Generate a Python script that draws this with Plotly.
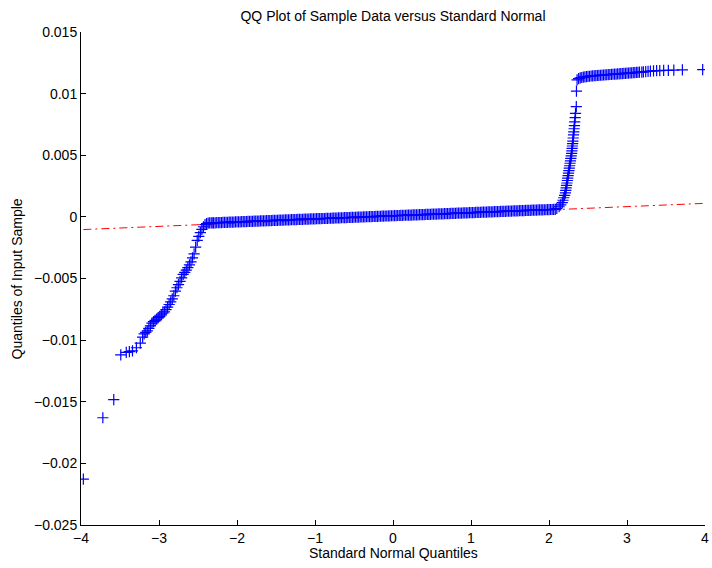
import plotly.graph_objects as go

# ---------------- data ----------------
# lower tail of the sample (theoretical quantile, sample quantile)
x_low_tail = [-3.97, -3.72, -3.58, -3.49, -3.42, -3.38, -3.34, -3.29, -3.24, -3.21,
              -3.19, -3.17, -3.15, -3.13, -3.11, -3.09, -3.07, -3.05, -3.03, -3.01,
              -2.99, -2.97, -2.95, -2.93, -2.91, -2.89, -2.87, -2.85, -2.83, -2.81,
              -2.79, -2.77, -2.75, -2.73, -2.71, -2.69, -2.67, -2.65, -2.63, -2.61,
              -2.59, -2.57, -2.55, -2.53, -2.51, -2.49, -2.47, -2.45, -2.43, -2.41,
              -2.39, -2.37, -2.35, -2.33, -2.31]
y_low_tail = [-0.02128, -0.01630, -0.01482, -0.01120, -0.01100, -0.01093, -0.01087, -0.01062, -0.01025, -0.00975,
              -0.00950, -0.00937, -0.00925, -0.00905, -0.00885, -0.00862, -0.00850, -0.00840, -0.00830, -0.00818,
              -0.00807, -0.00795, -0.00782, -0.00770, -0.00752, -0.00733, -0.00711, -0.00690, -0.00665, -0.00640,
              -0.00603, -0.00575, -0.00550, -0.00523, -0.00495, -0.00467, -0.00450, -0.00432, -0.00412, -0.00390,
              -0.00365, -0.00332, -0.00300, -0.00245, -0.00190, -0.00158, -0.00128, -0.00101, -0.00080, -0.00063,
              -0.00055, -0.00050, -0.00049, -0.00048, -0.00048]

# central band
x_middle = [-2.30, -2.28, -2.26, -2.24, -2.22, -2.20, -2.18, -2.16, -2.14, -2.12, -2.10, -2.08, -2.06, -2.04, -2.02, -2.00, -1.98, -1.96, -1.94, -1.92,
            -1.90, -1.88, -1.86, -1.84, -1.82, -1.80, -1.78, -1.76, -1.74, -1.72, -1.70, -1.68, -1.66, -1.64, -1.62, -1.60, -1.58, -1.56, -1.54, -1.52,
            -1.50, -1.48, -1.46, -1.44, -1.42, -1.40, -1.38, -1.36, -1.34, -1.32, -1.30, -1.28, -1.26, -1.24, -1.22, -1.20, -1.18, -1.16, -1.14, -1.12,
            -1.10, -1.08, -1.06, -1.04, -1.02, -1.00, -0.98, -0.96, -0.94, -0.92, -0.90, -0.88, -0.86, -0.84, -0.82, -0.80, -0.78, -0.76, -0.74, -0.72,
            -0.70, -0.68, -0.66, -0.64, -0.62, -0.60, -0.58, -0.56, -0.54, -0.52, -0.50, -0.48, -0.46, -0.44, -0.42, -0.40, -0.38, -0.36, -0.34, -0.32,
            -0.30, -0.28, -0.26, -0.24, -0.22, -0.20, -0.18, -0.16, -0.14, -0.12, -0.10, -0.08, -0.06, -0.04, -0.02, 0.00, 0.02, 0.04, 0.06, 0.08,
            0.10, 0.12, 0.14, 0.16, 0.18, 0.20, 0.22, 0.24, 0.26, 0.28, 0.30, 0.32, 0.34, 0.36, 0.38, 0.40, 0.42, 0.44, 0.46, 0.48,
            0.50, 0.52, 0.54, 0.56, 0.58, 0.60, 0.62, 0.64, 0.66, 0.68, 0.70, 0.72, 0.74, 0.76, 0.78, 0.80, 0.82, 0.84, 0.86, 0.88,
            0.90, 0.92, 0.94, 0.96, 0.98, 1.00, 1.02, 1.04, 1.06, 1.08, 1.10, 1.12, 1.14, 1.16, 1.18, 1.20, 1.22, 1.24, 1.26, 1.28,
            1.30, 1.32, 1.34, 1.36, 1.38, 1.40, 1.42, 1.44, 1.46, 1.48, 1.50, 1.52, 1.54, 1.56, 1.58, 1.60, 1.62, 1.64, 1.66, 1.68,
            1.70, 1.72, 1.74, 1.76, 1.78, 1.80, 1.82, 1.84, 1.86, 1.88, 1.90, 1.92, 1.94, 1.96, 1.98, 2.00, 2.02, 2.04, 2.06, 2.08]
y_middle_1e5 = [-48, -48, -47, -47, -46, -46, -45, -45, -44, -44, -43, -43, -42, -42, -41, -41, -40, -40, -39, -39,
                -38, -38, -37, -37, -36, -36, -35, -35, -34, -34, -33, -33, -32, -32, -31, -31, -30, -30, -29, -29,
                -28, -28, -27, -27, -26, -26, -25, -25, -24, -24, -23, -23, -22, -22, -21, -21, -20, -20, -19, -19,
                -18, -18, -17, -17, -16, -16, -15, -15, -14, -14, -13, -13, -12, -12, -11, -11, -10, -10, -9, -9,
                -8, -8, -7, -7, -6, -6, -5, -5, -4, -4, -3, -3, -2, -2, -1, -1, 0, 0, 1, 1,
                2, 2, 3, 3, 4, 4, 5, 5, 6, 6, 7, 7, 8, 8, 9, 9, 10, 10, 11, 11,
                12, 12, 13, 13, 14, 14, 15, 15, 16, 16, 17, 17, 18, 18, 19, 19, 20, 20, 21, 21,
                22, 22, 23, 23, 24, 24, 25, 25, 26, 26, 27, 27, 28, 28, 29, 29, 30, 30, 31, 31,
                32, 32, 33, 33, 34, 34, 35, 35, 36, 36, 37, 37, 38, 38, 39, 39, 40, 40, 41, 41,
                42, 42, 43, 43, 44, 44, 45, 45, 46, 46, 47, 47, 48, 48, 49, 49, 50, 50, 51, 51,
                52, 52, 53, 53, 54, 54, 55, 55, 56, 56, 57, 57, 58, 58, 59, 59, 60, 60, 61, 61]
y_middle = [v * 1e-5 for v in y_middle_1e5]

# steep rise near +2.2
x_rise = [2.10, 2.13, 2.15, 2.17, 2.18, 2.19, 2.20, 2.21, 2.215, 2.22,
          2.225, 2.23, 2.235, 2.24, 2.245, 2.25, 2.255, 2.26, 2.265, 2.27,
          2.275, 2.28, 2.285, 2.29, 2.293, 2.296, 2.30, 2.303, 2.306, 2.31,
          2.314, 2.318, 2.322, 2.326, 2.33, 2.335, 2.34, 2.35, 2.352]
y_rise = [0.00068, 0.00082, 0.00097, 0.00115, 0.00135, 0.00155, 0.00175, 0.00195, 0.00215, 0.00235,
          0.00255, 0.00275, 0.00295, 0.00315, 0.00335, 0.00355, 0.00375, 0.00395, 0.00415, 0.00435,
          0.00455, 0.00475, 0.00495, 0.00515, 0.00535, 0.00555, 0.00575, 0.00595, 0.00615, 0.00640,
          0.00665, 0.00690, 0.00715, 0.00740, 0.00770, 0.00805, 0.00840, 0.00895, 0.01020]

# upper tail plateau
x_up_tail = [2.36, 2.38, 2.40, 2.42, 2.44, 2.46, 2.48, 2.50, 2.52, 2.54,
             2.56, 2.58, 2.60, 2.62, 2.64, 2.66, 2.68, 2.70, 2.72, 2.74,
             2.76, 2.78, 2.80, 2.82, 2.84, 2.86, 2.88, 2.90, 2.92, 2.94,
             2.96, 2.98, 3.00, 3.02, 3.04, 3.06, 3.08, 3.10, 3.12, 3.14,
             3.16, 3.19, 3.21, 3.24, 3.27, 3.30, 3.34, 3.38, 3.42, 3.47,
             3.53, 3.60, 3.71, 3.97]
y_up_tail = [0.01112, 0.01121, 0.01127, 0.01131, 0.01134, 0.01136, 0.01138, 0.01140, 0.01141, 0.01143,
             0.01144, 0.01145, 0.01146, 0.01147, 0.01148, 0.01149, 0.01150, 0.01151, 0.01152, 0.01153,
             0.01154, 0.01155, 0.01156, 0.01157, 0.01158, 0.01159, 0.01160, 0.01161, 0.01162, 0.01163,
             0.01164, 0.01165, 0.01166, 0.01167, 0.01168, 0.01169, 0.01170, 0.01171, 0.01172, 0.01173,
             0.01174, 0.01175, 0.01176, 0.01178, 0.01180, 0.01182, 0.01184, 0.01186, 0.01187, 0.01188,
             0.01189, 0.01190, 0.01192, 0.01195]

# reference line through the quartiles
x_ref = [-3.97, 3.97]
y_ref = [-0.00103, 0.00109]

x_tickvals = [-4, -3, -2, -1, 0, 1, 2, 3, 4]
x_ticktext = ["\u22124", "\u22123", "\u22122", "\u22121", "0", "1", "2", "3", "4"]
y_tickvals = [-0.025, -0.02, -0.015, -0.01, -0.005, 0, 0.005, 0.01, 0.015]
y_ticktext = ["\u22120.025", "\u22120.02", "\u22120.015", "\u22120.01", "\u22120.005", "0", "0.005", "0.01", "0.015"]

title_text = "QQ Plot of Sample Data versus Standard Normal"
x_title = "Standard Normal Quantiles"
y_title = "Quantiles of Input Sample"

# ---------------- figure ----------------
FONT = "Liberation Sans, Arial, Helvetica, sans-serif"
x_all = x_low_tail + x_middle + x_rise + x_up_tail
y_all = y_low_tail + y_middle + y_rise + y_up_tail

fig = go.Figure()
fig.add_trace(go.Scatter(
    x=x_ref, y=y_ref, mode="lines",
    line=dict(color="#FF0000", width=1, dash="8px,4px,2px,4px"),
    showlegend=False, hoverinfo="skip"))
fig.add_trace(go.Scatter(
    x=x_all, y=y_all, mode="markers",
    marker=dict(symbol="cross-thin", size=8, color="#0000FF",
                line=dict(color="#0000FF", width=1.2)),
    showlegend=False))

axis_common = dict(showline=True, linecolor="#000000", linewidth=1, mirror=False,
                   ticks="inside", ticklen=5, tickwidth=1, tickcolor="#000000",
                   showgrid=False, zeroline=False,
                   tickfont=dict(family=FONT, size=14, color="#000000"))

fig.update_layout(
    width=712, height=568,
    margin=dict(l=81, r=7, t=32, b=43, autoexpand=False),
    paper_bgcolor="white", plot_bgcolor="white",
    font=dict(family=FONT, size=14, color="#000000"),
    title=dict(text=title_text, x=0.5, xref="paper", xanchor="center",
               y=1 - 16 / 568, yref="container", yanchor="middle",
               font=dict(family=FONT, size=14, color="#000000")),
    xaxis=dict(range=[-4, 4], tickvals=x_tickvals, ticktext=x_ticktext, **axis_common),
    yaxis=dict(range=[-0.025, 0.015], tickvals=y_tickvals, ticktext=y_ticktext, **axis_common),
    annotations=[
        dict(text=x_title, xref="paper", yref="paper", x=0.5, y=-0.057,
             xanchor="center", yanchor="middle", showarrow=False,
             font=dict(family=FONT, size=14, color="#000000")),
        dict(text=y_title, xref="paper", yref="paper", x=-0.1026, y=0.5,
             xanchor="center", yanchor="middle", textangle=-90, showarrow=False,
             font=dict(family=FONT, size=14, color="#000000")),
    ],
)

fig.write_html("out.html",
               config={"displayModeBar": False},
               post_script="document.body.style.margin='0px';document.body.style.overflow='hidden';")
